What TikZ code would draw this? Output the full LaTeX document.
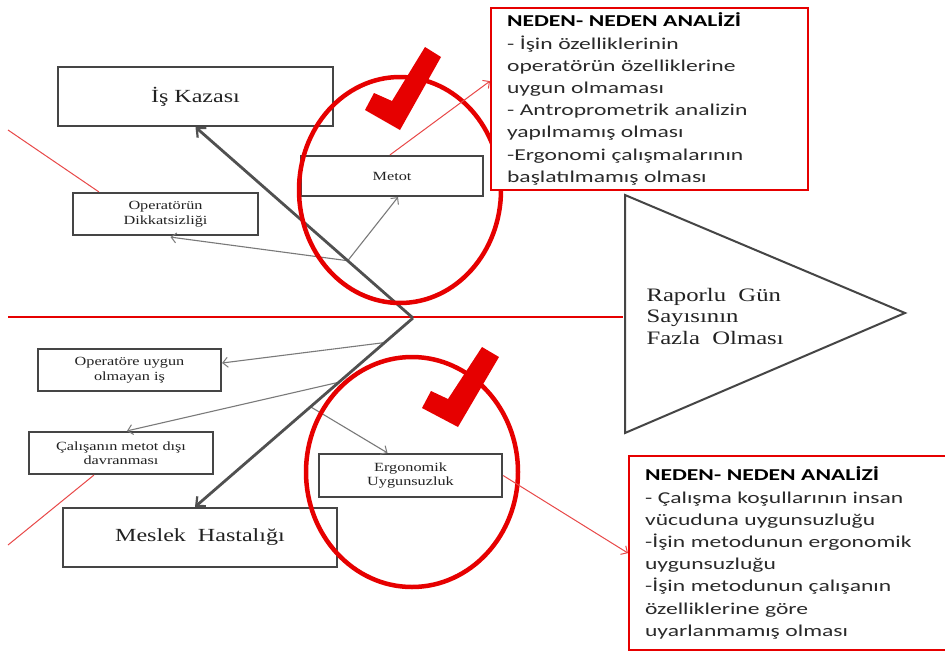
\documentclass[tikz,border=0pt]{standalone}
\usepackage{fontspec}
\setmainfont{Liberation Serif}
\newfontfamily\wserif[FakeStretch=1.3]{Liberation Serif}
\newfontfamily\wsans[FakeStretch=1.42]{Carlito}
\usetikzlibrary{arrows.meta,calc}
\definecolor{boxline}{HTML}{454545}
\definecolor{spinec}{HTML}{505050}
\definecolor{thin}{HTML}{7A7A7A}
\definecolor{ringred}{HTML}{E60000}
\definecolor{linered}{HTML}{E84848}
\definecolor{txt}{HTML}{222222}
\definecolor{boxtxt}{HTML}{2A2A2A}
\tikzset{
  catbox/.style={draw=boxline, line width=2.2pt, fill=white, inner sep=0pt, align=center, text=txt},
  bigfont/.style={font=\wserif\fontsize{18.5}{20}\selectfont},
  smallfont/.style={font=\wserif\fontsize{12.5}{14.5}\selectfont},
  spineline/.style={draw=spinec, line width=2.8pt, -{Straight Barb[length=7pt,width=13pt,line width=2.2pt]}},
  subarrow/.style={draw=thin, line width=1.1pt, -{Straight Barb[length=5pt,width=10pt,line width=1pt]}},
  redthin/.style={draw=linered, line width=1pt},
  redarrow/.style={draw=linered, line width=1pt, -{Straight Barb[length=5pt,width=10pt,line width=1pt]}},
  redring/.style={draw=ringred, line width=4.5pt},
  notebox/.style={draw=ringred, line width=2.2pt, fill=white, anchor=north west, align=left, inner xsep=16pt, inner ysep=0pt, text=boxtxt, font=\wsans\fontsize{16.6}{22.2}\selectfont},
}
\begin{document}
\begin{tikzpicture}[x=1pt,y=-1pt]
\useasboundingbox[fill=white] (0,0) rectangle (945,651);

% backbone
\coordinate (v) at (413,318);
\coordinate (bl) at (8,317);
\coordinate (tri) at (623,317);
\draw[draw=ringred, line width=1.4pt] (bl) -- (tri);

% head triangle
\coordinate (t1) at (625,195);
\coordinate (t2) at (905,313);
\coordinate (t3) at (625,433);
\draw[draw=boxline, line width=2pt, fill=white] (t1) -- (t2) -- (t3) -- cycle;
\node[anchor=west, align=left, text=txt, font=\wserif\fontsize{19}{21.5}\selectfont] (head) at (643,316) {Raporlu~~Gün\\Sayısının\\Fazla~~Olması};

% category boxes
\node[catbox, bigfont, minimum width=275pt, minimum height=59pt] (kaza) at (195.5,96.5) {İş Kazası};
\node[catbox, bigfont, minimum width=274pt, minimum height=59pt] (meslek) at (200,537.5) {Meslek~~Hastalığı};

% cause boxes
\node[catbox, smallfont, minimum width=182pt, minimum height=40pt] (metot) at (392,176) {Metot};
\node[catbox, smallfont, minimum width=185pt, minimum height=42pt] (dikkat) at (165.5,214) {Operatörün\\Dikkatsizliği};
\node[catbox, smallfont, minimum width=183pt, minimum height=42pt] (uygun) at (129.5,370) {Operatöre uygun\\olmayan iş};
\node[catbox, smallfont, minimum width=184pt, minimum height=42pt] (calisan) at (121,453) {Çalışanın metot dışı\\davranması};
\node[catbox, smallfont, minimum width=183pt, minimum height=43pt] (ergo) at (410.5,475.5) {Ergonomik\\Uygunsuzluk};

% red side lines
\coordinate (r1) at (8,130);
\coordinate (r2) at (8,545);
\draw[redthin] (r1) -- ($(dikkat.north west)+(27,0)$);
\draw[redthin] (r2) -- ($(calisan.south west)+(66,0)$);

% spine points
\path (v) -- (kaza.south) coordinate[pos=0.3] (p1);
\path (v) -- ($(meslek.north)+(-5,0)$) coordinate[pos=0.13] (q1) coordinate[pos=0.34] (q2) coordinate[pos=0.47] (q3);

% sub arrows
\draw[subarrow] (p1) -- ($(dikkat.south)+(5,1)$);
\draw[subarrow] (p1) -- ($(metot.south)+(6,0)$);
\draw[subarrow] (q1) -- ($(uygun.east)+(0,-7)$);
\draw[subarrow] (q2) -- ($(calisan.north)+(6,0)$);
\draw[subarrow] (q3) -- ($(ergo.north)+(-23,0)$);

% main spine arrows
\draw[spineline] (v) -- (kaza.south);
\draw[spineline] (v) -- ($(meslek.north)+(-5,0)$);

% rings
\draw[redring] (400,190) ellipse [x radius=101pt, y radius=113pt];
\draw[redring] (412,472) ellipse [x radius=106pt, y radius=115pt];

% check marks
\fill[ringred] (365,110) -- (374,93) -- (392,101) -- (425,47) -- (441,57) -- (400,130) -- cycle;
\fill[ringred] (422,408) -- (431,391) -- (448,399) -- (482,347) -- (499,357) -- (458,427) -- cycle;

% note boxes
\node[notebox, minimum width=311pt, minimum height=182pt, text width=285pt] (note1) at (490,7) {%
{\bfseries\color{black}NEDEN- NEDEN ANALİZİ}\\
- İşin özelliklerinin\\
operatörün özelliklerine\\
uygun olmaması\\
- Antroprometrik analizin\\
yapılmamış olması\\
-Ergonomi çalışmalarının\\
başlatılmamış olması};
\node[notebox, minimum width=322pt, minimum height=194pt, text width=295pt] (note2) at (628,455) {%
{\bfseries\color{black}NEDEN- NEDEN ANALİZİ}\\
- Çalışma koşullarının insan\\
vücuduna uygunsuzluğu\\
-İşin metodunun ergonomik\\
uygunsuzluğu\\
-İşin metodunun çalışanın\\
özelliklerine göre\\
uyarlanmamış olması};

% red pointers
\draw[redarrow] ($(metot.north)+(-2,0)$) -- ($(note1.west)+(0,-18)$);
\draw[redarrow] (ergo.east) -- ($(note2.west)+(0,0)$);
\end{tikzpicture}
\end{document}
